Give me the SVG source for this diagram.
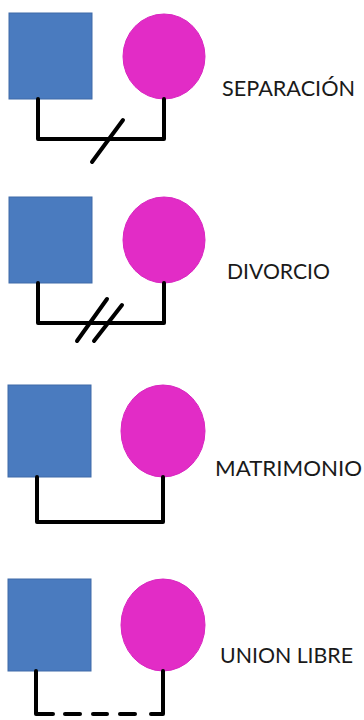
<svg xmlns="http://www.w3.org/2000/svg" width="364" height="720" viewBox="0 0 364 720">
<style>
.m{fill:#4a7bbf;stroke:#3f6aa8;stroke-width:1}
.f{fill:#e22cc6;stroke:#d925c0;stroke-width:1}
.c{fill:none;stroke:#000;stroke-width:4;stroke-linejoin:round;stroke-linecap:round}
.t{font-family:Lato,"Open Sans","Liberation Sans",sans-serif;font-size:21.5px;fill:#1a1a1a}
</style>
<rect width="364" height="720" fill="#fff"/>
<g id="separacion">
<rect class="m" x="9" y="13" width="83" height="86"/>
<ellipse class="f" cx="164" cy="56.5" rx="41" ry="42.5"/>
<text class="t" x="222" y="95.5" textLength="133" lengthAdjust="spacingAndGlyphs">SEPARACIÓN</text>
</g>
<g id="divorcio">
<rect class="m" x="9" y="197" width="83" height="86"/>
<ellipse class="f" cx="164" cy="240" rx="41" ry="43"/>
<text class="t" x="227" y="278.5" textLength="103" lengthAdjust="spacingAndGlyphs">DIVORCIO</text>
</g>
<g id="matrimonio">
<rect class="m" x="8" y="385" width="83" height="92"/>
<ellipse class="f" cx="163" cy="431" rx="42" ry="46"/>
<text class="t" x="215" y="475.5" textLength="147" lengthAdjust="spacingAndGlyphs">MATRIMONIO</text>
</g>
<g id="union-libre">
<rect class="m" x="8" y="579" width="83" height="92"/>
<ellipse class="f" cx="163" cy="625" rx="42" ry="46"/>
<text class="t" x="220" y="662.5" textLength="133" lengthAdjust="spacingAndGlyphs">UNION LIBRE</text>
</g>
<g id="connectors">
<polyline class="c" points="38,99 38,139 164,139 164,99"/>
<line class="c" x1="92" y1="162" x2="123" y2="120" stroke-width="3.5"/>
<polyline class="c" points="38,283 38,323 164,323 164,283"/>
<line class="c" x1="77" y1="341" x2="107" y2="299" stroke-width="3.5"/>
<line class="c" x1="94" y1="341" x2="122" y2="305" stroke-width="3.5"/>
<polyline class="c" points="37,477 37,522 163,522 163,477"/>
<polyline class="c" points="36,671 36,714 53,714"/>
<line class="c" x1="65" y1="714" x2="80" y2="714"/>
<line class="c" x1="93" y1="714" x2="107" y2="714"/>
<line class="c" x1="120" y1="714" x2="135" y2="714"/>
<polyline class="c" points="151,714 163,714 163,671"/>
</g>
</svg>
